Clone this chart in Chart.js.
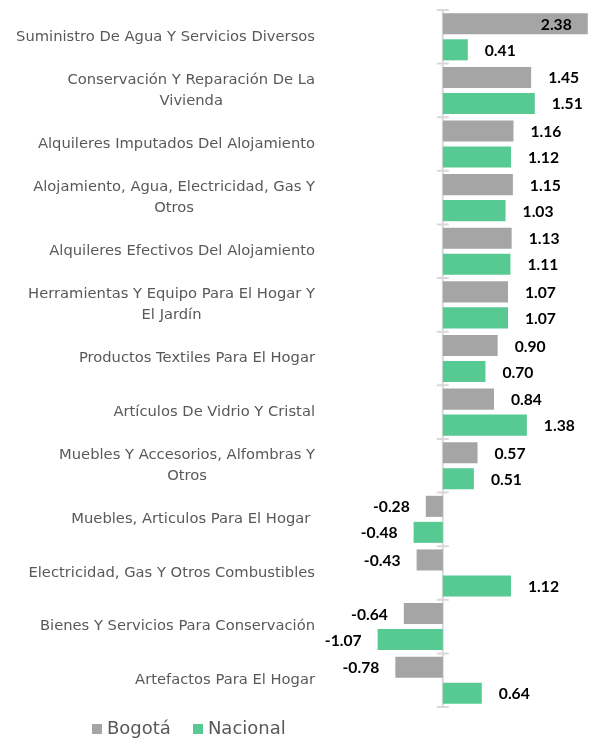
<!DOCTYPE html>
<html><head><meta charset="utf-8">
<script src="https://cdn.jsdelivr.net/npm/chart.js@4/dist/chart.umd.min.js"></script>
<style>
html,body{margin:0;padding:0;background:#fff;}
#wrap{position:relative;width:593px;height:738px;overflow:hidden;}
#c{display:block;}
#legend{position:absolute;left:92px;top:718px;height:20px;font-family:"DejaVu Sans",sans-serif;font-size:18px;color:#595959;white-space:nowrap;line-height:20px;}
#legend span.item{display:inline-block;margin-right:22px;}
#legend span.sw{display:inline-block;width:10px;height:10px;margin-right:5px;vertical-align:0px;}
</style></head><body>
<div id="wrap"><canvas id="c" width="593" height="738" style="width:593px;height:738px"></canvas><div id="legend"></div></div>
<script>
const categories = [
  ["Suministro De Agua Y Servicios Diversos"],
  ["Conservación Y Reparación De La", "Vivienda"],
  ["Alquileres Imputados Del Alojamiento"],
  ["Alojamiento, Agua, Electricidad, Gas Y", "Otros"],
  ["Alquileres Efectivos Del Alojamiento"],
  ["Herramientas Y Equipo Para El Hogar Y", "El Jardín"],
  ["Productos Textiles Para El Hogar"],
  ["Artículos De Vidrio Y Cristal"],
  ["Muebles Y Accesorios, Alfombras Y", "Otros"],
  ["Muebles, Articulos Para El Hogar "],
  ["Electricidad, Gas Y Otros Combustibles"],
  ["Bienes Y Servicios Para Conservación"],
  ["Artefactos Para El Hogar"]
];
const bogota   = [2.38, 1.45, 1.16, 1.15, 1.13, 1.07, 0.90, 0.84, 0.57, -0.28, -0.43, -0.64, -0.78];
const nacional = [0.41, 1.51, 1.12, 1.03, 1.11, 1.07, 0.70, 1.38, 0.51, -0.48, 1.12, -1.07, 0.64];
const seriesNames = ["Bogotá", "Nacional"];
const seriesColors = ["#a5a5a5", "#57c993"];

const FONT = '"DejaVu Sans", sans-serif';
const VFONT = 'Lato, "DejaVu Sans", sans-serif';

// fit font sizes to measured reference widths
const mctx = document.createElement('canvas').getContext('2d');
function fitSize(text, target, weight, fam){
  mctx.font = (weight||'') + ' 100px ' + fam;
  return 100 * target / mctx.measureText(text).width;
}
const labelSize = fitSize("Suministro De Agua Y Servicios Diversos", 299, '', FONT);
const valueSize = Math.min(16, fitSize("2.38", 31, 'bold', VFONT));

const drawPlugin = {
  id: 'drawPlugin',
  beforeDatasetsDraw(chart){
    const {ctx, chartArea, scales:{x, y}} = chart;
    const x0 = x.getPixelForValue(0);
    ctx.save();
    ctx.strokeStyle = '#d9d9d9';
    ctx.lineWidth = 2;
    ctx.beginPath();
    ctx.moveTo(x0, chartArea.top);
    ctx.lineTo(x0, chartArea.bottom);
    for (let i = 0; i <= categories.length; i++){
      const yy = y.getPixelForValue(i - 0.5);
      ctx.moveTo(x0 - 6, yy);
      ctx.lineTo(x0 + 6, yy);
    }
    ctx.stroke();
    ctx.restore();
  },
  afterDatasetsDraw(chart){
    const {ctx, chartArea, scales:{y}} = chart;
    ctx.save();
    ctx.font = labelSize + 'px ' + FONT;
    ctx.fillStyle = '#595959';
    ctx.textAlign = 'center';
    ctx.textBaseline = 'middle';
    const right = chartArea.left - 6;
    const lineH = 21;
    categories.forEach((lines, i) => {
      const w = Math.max(...lines.map(l => ctx.measureText(l).width));
      const cx = right - w / 2;
      const cy = y.getPixelForValue(i);
      lines.forEach((l, j) => ctx.fillText(l, cx, cy + (j - (lines.length - 1) / 2) * lineH));
    });
    ctx.font = 'bold ' + valueSize + 'px ' + VFONT;
    ctx.fillStyle = '#000000';
    chart.data.datasets.forEach((ds, di) => {
      const meta = chart.getDatasetMeta(di);
      meta.data.forEach((el, i) => {
        const v = ds.data[i];
        const txt = v.toFixed(2);
        const tw = ctx.measureText(txt).width;
        const off = 17;
        if (v >= 0){
          if (el.x + off + tw > chart.width - 2){
            ctx.textAlign = 'right';
            ctx.fillText(txt, el.x - 16, el.y + 1);
          } else {
            ctx.textAlign = 'left';
            ctx.fillText(txt, el.x + off, el.y + 1);
          }
        } else {
          ctx.textAlign = 'right';
          ctx.fillText(txt, el.x - 16, el.y + 1);
        }
      });
    });
    ctx.restore();
  }
};

new Chart(document.getElementById('c'), {
  type: 'bar',
  data: {
    labels: categories.map(c => c.join(' ')),
    datasets: [
      { label: seriesNames[0], data: bogota, backgroundColor: seriesColors[0] },
      { label: seriesNames[1], data: nacional, backgroundColor: seriesColors[1] }
    ]
  },
  options: {
    indexAxis: 'y',
    responsive: false,
    animation: false,
    devicePixelRatio: 1,
    categoryPercentage: 0.97,
    barPercentage: 0.81,
    layout: { padding: { left: 321, right: 4, top: 10, bottom: 31 } },
    scales: {
      x: { display: false, min: -2, max: 2.4 },
      y: { display: false }
    },
    plugins: {
      legend: { display: false },
      tooltip: { enabled: false }
    }
  },
  plugins: [drawPlugin]
});

const legend = document.getElementById('legend');
seriesNames.forEach((n, i) => {
  const item = document.createElement('span');
  item.className = 'item';
  const sw = document.createElement('span');
  sw.className = 'sw';
  sw.style.background = seriesColors[i];
  item.appendChild(sw);
  item.appendChild(document.createTextNode(n));
  legend.appendChild(item);
});
</script>
</body></html>
